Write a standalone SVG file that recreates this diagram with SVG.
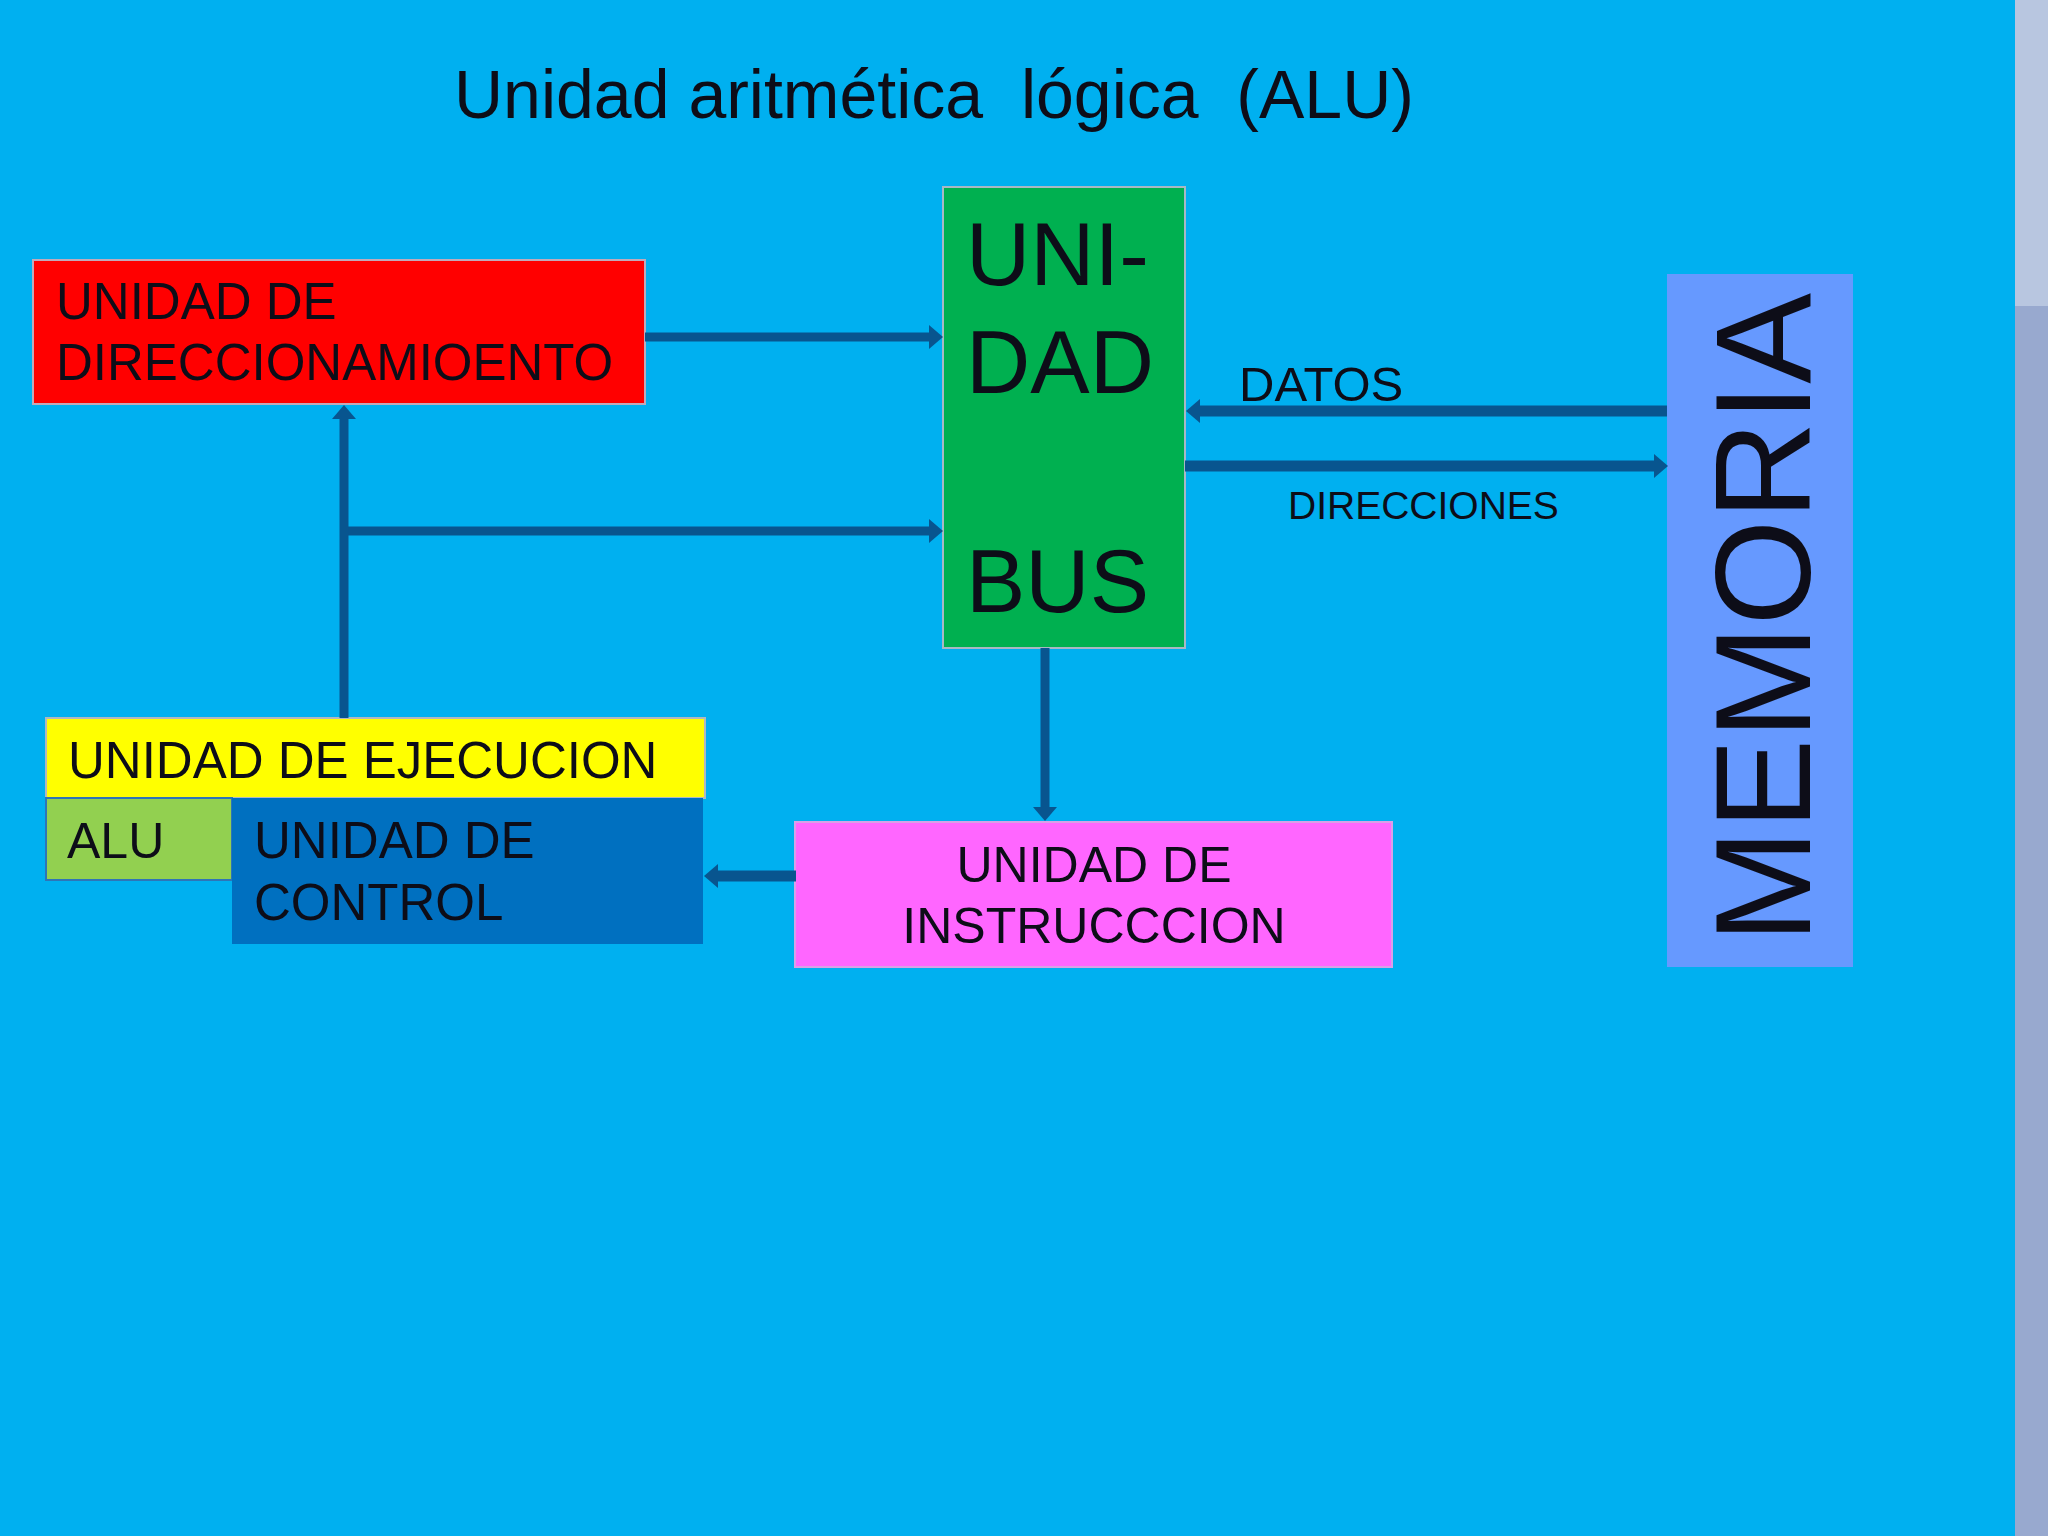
<svg xmlns="http://www.w3.org/2000/svg" width="2048" height="1536" viewBox="0 0 2048 1536">
<defs>
<style>
.t{font-family:"Liberation Sans",Arial,sans-serif;fill:#0d0d18}
.c{fill:none;stroke:#08558f}
</style>
<marker id="ah" markerUnits="userSpaceOnUse" viewBox="0 0 14 24" refX="1" refY="12" markerWidth="14" markerHeight="24" orient="auto">
<path d="M0,0 L14,12 L0,24 Z" fill="#08558f"/>
</marker>
</defs>
<rect width="2048" height="1536" fill="#00b0f0"/>
<rect x="2015" y="0" width="33" height="306" fill="#b8c6e0"/>
<rect x="2015" y="306" width="33" height="1230" fill="#98a9cf"/>
<text class="t" x="454" y="118" font-size="68" xml:space="preserve">Unidad aritmética  lógica  (ALU)</text>

<g id="direccionamiento">
<rect x="33" y="260" width="612" height="144" fill="#ff0000" stroke="#c0aabb" stroke-width="2"/>
<text class="t" x="56" y="319" font-size="51">UNIDAD DE</text>
<text class="t" x="56" y="380" font-size="51">DIRECCIONAMIOENTO</text>
</g>

<g id="bus">
<rect x="943" y="187" width="242" height="461" fill="#00b050" stroke="#a9b8c4" stroke-width="2"/>
<text class="t" x="966" y="285" font-size="89">UNI-</text>
<text class="t" x="966" y="393" font-size="89">DAD</text>
<text class="t" x="966" y="612" font-size="89">BUS</text>
</g>

<g id="memoria">
<rect x="1667" y="274" width="186" height="693" fill="#6699ff"/>
<text class="t" transform="translate(1810,618) rotate(-90)" text-anchor="middle" font-size="136">MEMORIA</text>
</g>

<g id="ejecucion">
<rect x="46" y="718" width="659" height="80" fill="#ffff00" stroke="#b0b8c0" stroke-width="2"/>
<text class="t" x="68" y="778" font-size="51">UNIDAD DE EJECUCION</text>
</g>

<g id="alu">
<rect x="46" y="798" width="186" height="82" fill="#92d050" stroke="#2e75b6" stroke-width="2"/>
<text class="t" x="67" y="858" font-size="50">ALU</text>
</g>

<g id="control">
<rect x="232" y="798" width="471" height="146" fill="#0070c0"/>
<text class="t" x="254" y="858" font-size="51">UNIDAD DE</text>
<text class="t" x="254" y="920" font-size="51">CONTROL</text>
</g>

<g id="instruccion">
<rect x="795" y="822" width="597" height="145" fill="#ff66ff" stroke="#d8a0e8" stroke-width="2"/>
<text class="t" x="1094" y="882" font-size="50" text-anchor="middle">UNIDAD DE</text>
<text class="t" x="1094" y="943" font-size="50" text-anchor="middle">INSTRUCCCION</text>
</g>

<g id="labels">
<text class="t" x="1239" y="401" font-size="49">DATOS</text>
<text class="t" x="1288" y="519" font-size="39">DIRECCIONES</text>
</g>

<g id="connectors">
<path class="c" stroke-width="9" d="M645,337 H930" marker-end="url(#ah)"/>
<path class="c" stroke-width="9" d="M344,531 H930" marker-end="url(#ah)"/>
<path class="c" stroke-width="9" d="M344,718 V418" marker-end="url(#ah)"/>
<path class="c" stroke-width="11" d="M1667,411 H1199" marker-end="url(#ah)"/>
<path class="c" stroke-width="11" d="M1185,466 H1655" marker-end="url(#ah)"/>
<path class="c" stroke-width="9" d="M1045,648 V808" marker-end="url(#ah)"/>
<path class="c" stroke-width="11" d="M796,876 H717" marker-end="url(#ah)"/>
</g>
</svg>
